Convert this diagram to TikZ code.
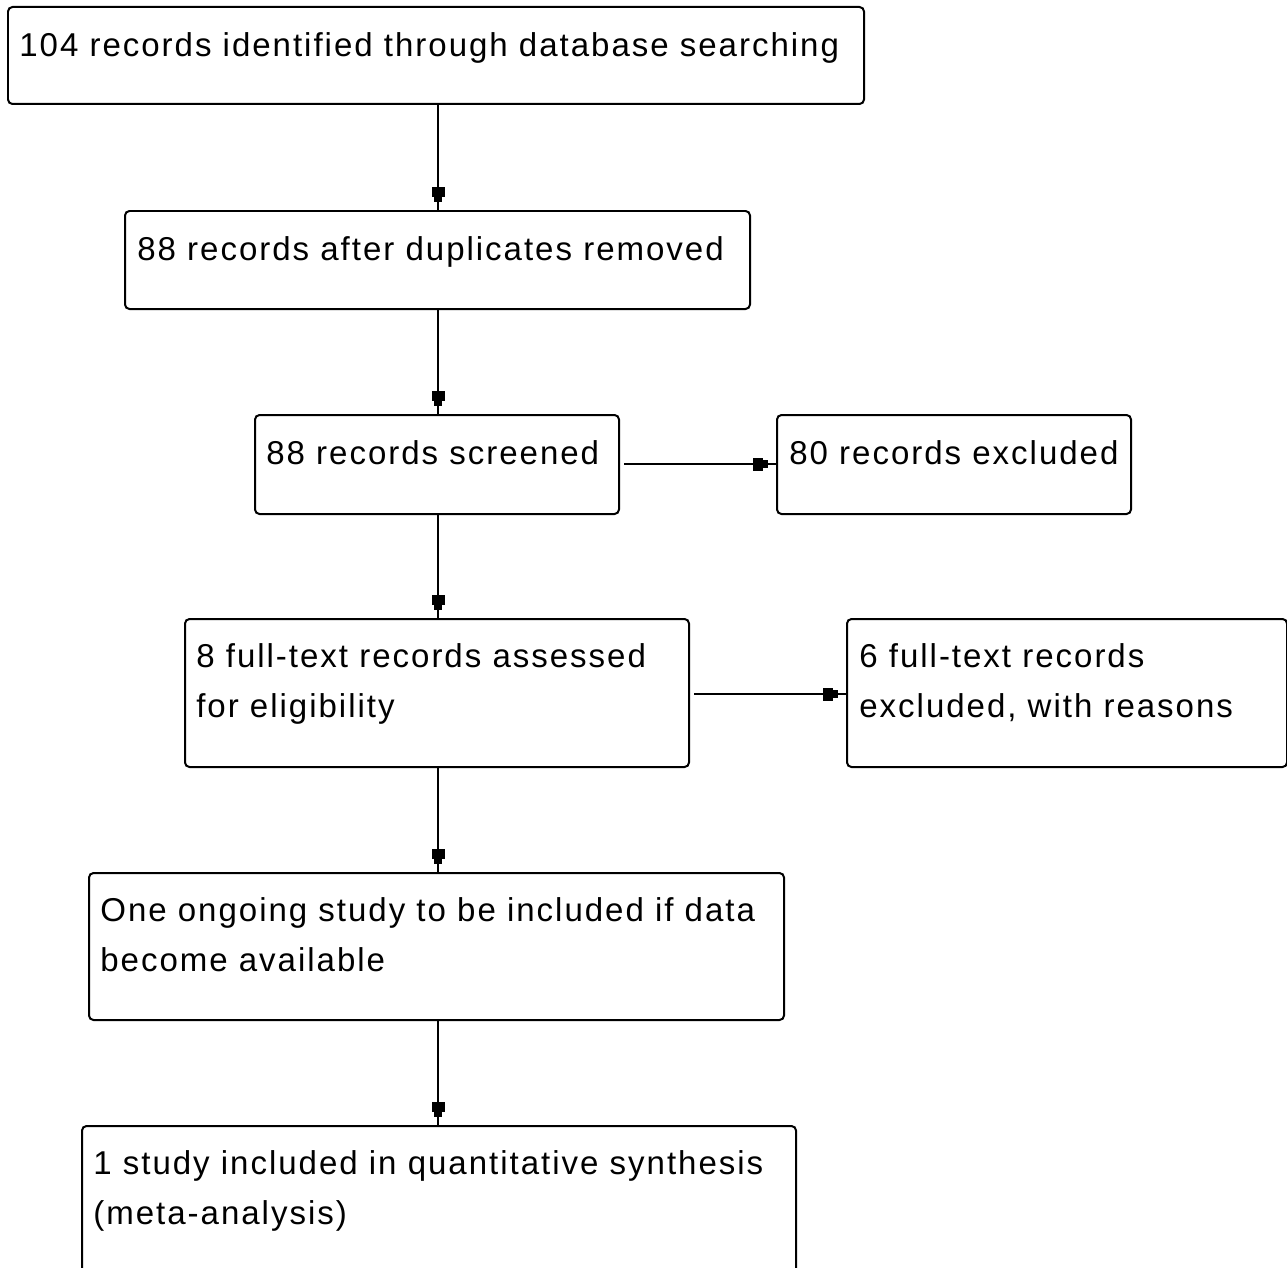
\documentclass[tikz,border=0pt]{standalone}
\usepackage{fontspec}
\setmainfont[LetterSpace=6]{Liberation Sans}
\usetikzlibrary{fit,arrows.meta}
\begin{document}
\begin{tikzpicture}[x=0.02cm,y=-0.02cm,
  box/.style={draw, line width=0.04cm, rounded corners=0.09cm, inner sep=0pt},
  lbl/.style={anchor=base west, inner sep=0pt, font=\fontsize{18.8pt}{27.9pt}\selectfont, align=left},
  conn/.style={line width=0.04cm},
  head/.style={line width=0.04cm, -{Rectangle[length=0.2cm,width=0.26cm] Rectangle[length=0.1cm,width=0.16cm]}, shorten >=0.16cm}]
\useasboundingbox (0,0) rectangle (1287,1267);
\fill[white] (0,0) rectangle (1287,1267);
\node[box, fit={(8,7) (864,104)}] (A) {};
\node[box, fit={(125,211) (750,309)}] (B) {};
\node[box, fit={(255,415) (619,514)}] (C) {};
\node[box, fit={(777,415) (1131,514)}] (D) {};
\node[box, fit={(185,619) (689,767)}] (E) {};
\node[box, fit={(847,619) (1287,767)}] (F) {};
\node[box, fit={(89,873) (784,1020)}] (G) {};
\node[box, fit={(82,1126) (796,1320)}] (H) {};
\node[lbl] (tA) at (19,57) {104 records identified through database searching};
\node[lbl] (tB) at (137,260) {88 records after duplicates removed};
\node[lbl] (tC) at (266,464) {88 records screened};
\node[lbl] (tD) at (789,464) {80 records excluded};
\node[lbl] (tE) at (196,717) {8 full-text records assessed\\for eligibility};
\node[lbl] (tF) at (859,717) {6 full-text records\\excluded, with reasons};
\node[lbl] (tG) at (100,971) {One ongoing study to be included if data\\become available};
\node[lbl] (tH) at (93,1224) {1 study included in quantitative synthesis\\(meta-analysis)};
\coordinate (axis) at (438,0);
\coordinate (r1) at (0,464);
\coordinate (r2) at (0,694);
\foreach \a/\b in {A/B,B/C,C/E,E/G,G/H}{
  \draw[conn] (\a.south -| axis) -- (\b.north -| axis);
  \draw[head] (\a.south -| axis) -- (\b.north -| axis);
}
\foreach \a/\b/\r in {C/D/r1,E/F/r2}{
  \draw[conn, shorten <=0.08cm] (\a.east |- \r) -- (\b.west |- \r);
  \draw[head, shorten <=0.08cm] (\a.east |- \r) -- (\b.west |- \r);
}
\end{tikzpicture}
\end{document}
